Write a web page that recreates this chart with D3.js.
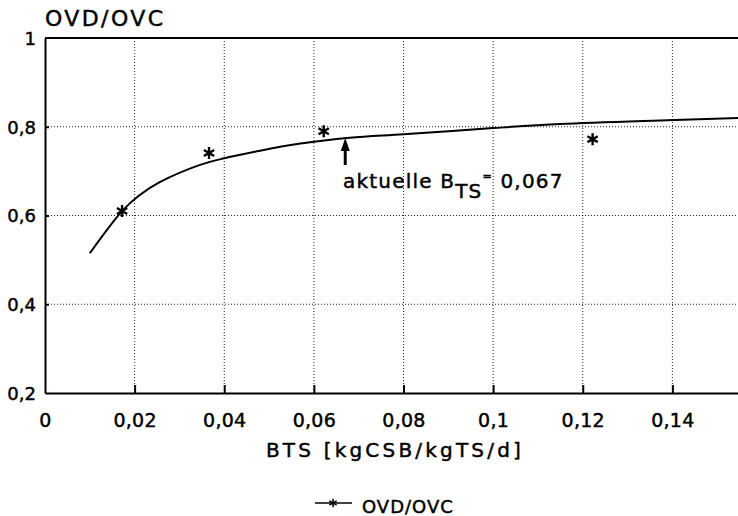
<!DOCTYPE html>
<html><head><meta charset="utf-8">
<script src="https://cdn.jsdelivr.net/npm/d3@7"></script>
<style>
html,body{margin:0;padding:0;background:#fff;}
svg{display:block;font-family:"DejaVu Sans",sans-serif;}
svg text{stroke:#000;stroke-width:0.45px;}
</style></head>
<body>
<script>
// Data
const xTicks = [0, 0.02, 0.04, 0.06, 0.08, 0.1, 0.12, 0.14];
const xTickLabels = ["0", "0,02", "0,04", "0,06", "0,08", "0,1", "0,12", "0,14"];
const yTicks = [0.2, 0.4, 0.6, 0.8, 1];
const yTickLabels = ["0,2", "0,4", "0,6", "0,8", "1"];
// measured points (stars)
const pointX = [0.0172, 0.0366, 0.0622, 0.1222];
const pointY = [0.610, 0.741, 0.790, 0.772];
// fitted curve as drawn
const curveX = [0.0100, 0.0172, 0.0210, 0.0256, 0.0346, 0.0400, 0.0480, 0.0570, 0.0680, 0.0800, 0.1000, 0.1150, 0.1400, 0.1550, 0.1600];
const curveY = [0.515, 0.610, 0.645, 0.675, 0.714, 0.729, 0.746, 0.762, 0.775, 0.783, 0.797, 0.806, 0.815, 0.820, 0.821];
const currentBTS = 0.067;
const yTitle = "OVD/OVC";
const xTitle = "BTS [kgCSB/kgTS/d]";
const seriesName = "OVD/OVC";

const W = 738, H = 516;
const svg = d3.select("body").append("svg").attr("width", W).attr("height", H);

const x = d3.scaleLinear().domain([0, 0.16]).range([45, 762]);
const y = d3.scaleLinear().domain([0.2, 1]).range([393, 38]);

// grid
const grid = svg.append("g").attr("stroke", "#222").attr("stroke-width", 1).attr("stroke-dasharray", "1,2");
grid.selectAll(".vg").data(xTicks.filter(d => d > 0)).join("line")
  .attr("x1", d => x(d)).attr("x2", d => x(d)).attr("y1", y(1)).attr("y2", y(0.2));
grid.selectAll(".hg").data(yTicks.filter(d => d > 0.2 && d < 1)).join("line")
  .attr("x1", x(0)).attr("x2", x(0.16)).attr("y1", d => y(d)).attr("y2", d => y(d));

// frame
const frame = svg.append("g").attr("stroke", "#000").attr("fill", "none");
frame.append("line").attr("x1", x(0)).attr("x2", x(0.16)).attr("y1", y(1)).attr("y2", y(1)).attr("stroke-width", 2);

// axes
const xAxis = d3.axisBottom(x).tickValues(xTicks).tickSize(0).tickPadding(22)
  .tickFormat((d, i) => xTickLabels[i]);
const gx = svg.append("g").attr("transform", `translate(0,${y(0.2)})`).call(xAxis);
gx.select(".domain").attr("stroke-width", 2);
gx.selectAll("text").attr("font-size", 19).attr("font-family", "DejaVu Sans").attr("fill", "#000").attr("dy", 0).attr("y", 34).attr("letter-spacing", 0.3);
gx.selectAll(".tick").filter(d => d > 0).append("line").attr("y1", 0).attr("y2", -8).attr("stroke", "#000").attr("stroke-width", 2);

const yAxis = d3.axisLeft(y).tickValues(yTicks).tickSize(0).tickPadding(9)
  .tickFormat((d, i) => yTickLabels[i]);
const gy = svg.append("g").attr("transform", `translate(${x(0)},0)`).call(yAxis);
gy.select(".domain").attr("stroke-width", 2);
gy.selectAll("text").attr("font-size", 18).attr("font-family", "DejaVu Sans").attr("fill", "#000").attr("dy", "0.36em");
gy.selectAll(".tick").filter(d => d > 0.2 && d < 1).append("line").attr("x1", 0).attr("x2", 4).attr("stroke", "#000").attr("stroke-width", 2);

// curve
const line = d3.line().x(d => x(d[0])).y(d => y(d[1])).curve(d3.curveCatmullRom.alpha(0.5));
svg.append("path").datum(d3.zip(curveX, curveY)).attr("d", line)
  .attr("fill", "none").attr("stroke", "#000").attr("stroke-width", 2);

// stars
const star = d3.symbol().type(d3.symbolAsterisk).size(100);
svg.selectAll(".star").data(d3.zip(pointX, pointY)).join("path")
  .attr("d", star).attr("transform", d => `translate(${x(d[0])},${y(d[1])})`)
  .attr("stroke", "#000").attr("stroke-width", 2.4).attr("fill", "none");

// arrow to current BTS
const ax = x(currentBTS);
const arrowTop = 138;
svg.append("line").attr("x1", ax).attr("x2", ax).attr("y1", arrowTop + 10).attr("y2", arrowTop + 27)
  .attr("stroke", "#000").attr("stroke-width", 3);
svg.append("path").attr("d", `M${ax},${arrowTop} L${ax - 4.5},${arrowTop + 13} L${ax + 4.5},${arrowTop + 13} Z`).attr("fill", "#000");

const ann = svg.append("text").attr("x", 343).attr("y", 188).attr("font-size", 20).attr("letter-spacing", 1.2).attr("fill", "#000");
ann.append("tspan").text("aktuelle B");
ann.append("tspan").attr("dy", 10).text("TS");
ann.append("tspan").attr("dy", -18).attr("font-size", 11).text("=");
ann.append("tspan").attr("dy", 8).attr("font-size", 20).text(" 0,067");

// titles
svg.append("text").attr("x", 45).attr("y", 26).attr("font-size", 22).attr("letter-spacing", 2.4).attr("fill", "#000").text(yTitle);
svg.append("text").attr("x", 395).attr("y", 457).attr("text-anchor", "middle").attr("font-size", 20).attr("letter-spacing", 3.2).attr("fill", "#000").text(xTitle);

// legend
const lg = svg.append("g");
lg.append("line").attr("x1", 315).attr("x2", 352).attr("y1", 503).attr("y2", 503).attr("stroke", "#000").attr("stroke-width", 1.5);
lg.append("path").attr("d", d3.symbol().type(d3.symbolAsterisk).size(50)).attr("transform", "translate(333,503)").attr("stroke", "#000").attr("stroke-width", 1.5).attr("fill", "none");
lg.append("text").attr("x", 362).attr("y", 513).attr("font-size", 18).attr("letter-spacing", 1).attr("fill", "#000").text(seriesName);
</script>
</body></html>
